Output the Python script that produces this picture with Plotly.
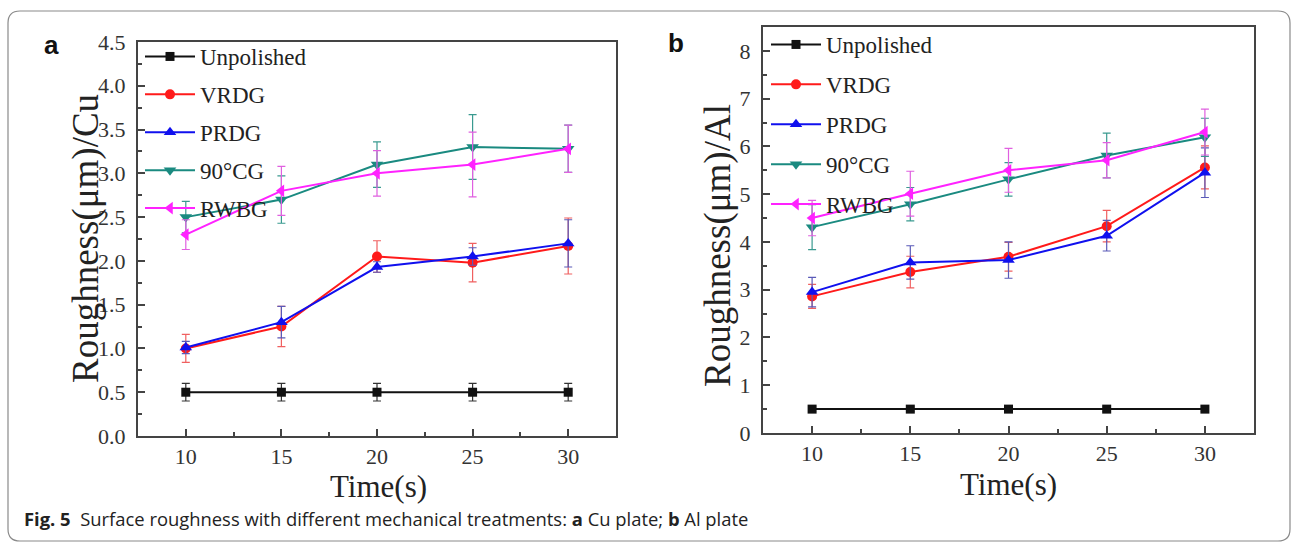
import plotly.graph_objects as go

W, H = 1293, 543

time_s = [10, 15, 20, 25, 30]
series_names = ["Unpolished", "VRDG", "PRDG", "90°CG", "RWBG"]

# Panel a: Cu plate
cu_unpolished = [0.5, 0.5, 0.5, 0.5, 0.5]
cu_unpolished_err = [0.1, 0.1, 0.1, 0.1, 0.1]
cu_vrdg = [1.0, 1.25, 2.05, 1.98, 2.17]
cu_vrdg_err = [0.16, 0.23, 0.18, 0.22, 0.32]
cu_prdg = [1.01, 1.3, 1.93, 2.05, 2.2]
cu_prdg_err = [0.07, 0.18, 0.06, 0.1, 0.27]
cu_90cg = [2.5, 2.7, 3.1, 3.3, 3.28]
cu_90cg_err = [0.18, 0.27, 0.26, 0.37, 0.27]
cu_rwbg = [2.3, 2.8, 3.0, 3.1, 3.28]
cu_rwbg_err = [0.17, 0.28, 0.26, 0.37, 0.27]

# Panel b: Al plate
al_unpolished = [0.5, 0.5, 0.5, 0.5, 0.5]
al_unpolished_err = [0.05, 0.05, 0.05, 0.05, 0.05]
al_vrdg = [2.86, 3.37, 3.69, 4.33, 5.56]
al_vrdg_err = [0.25, 0.33, 0.3, 0.33, 0.45]
al_prdg = [2.95, 3.57, 3.62, 4.13, 5.45]
al_prdg_err = [0.31, 0.35, 0.38, 0.32, 0.52]
al_90cg = [4.31, 4.79, 5.31, 5.81, 6.19]
al_90cg_err = [0.47, 0.35, 0.35, 0.47, 0.4]
al_rwbg = [4.5, 5.01, 5.5, 5.71, 6.3]
al_rwbg_err = [0.37, 0.47, 0.46, 0.37, 0.48]

line_colors = ["#111111", "#ff1a1a", "#1010ee", "#1a8a80", "#ff22ff"]
err_colors = ["#333333", "#f06060", "#5a5ab8", "#3a9a90", "#e060e0"]
symbols = ["square", "circle", "triangle-up", "triangle-down", "triangle-left"]
sizes = [9, 10, 11, 11, 11]

cu_vals = [cu_unpolished, cu_vrdg, cu_prdg, cu_90cg, cu_rwbg]
cu_errs = [cu_unpolished_err, cu_vrdg_err, cu_prdg_err, cu_90cg_err, cu_rwbg_err]
al_vals = [al_unpolished, al_vrdg, al_prdg, al_90cg, al_rwbg]
al_errs = [al_unpolished_err, al_vrdg_err, al_prdg_err, al_90cg_err, al_rwbg_err]

SERIF = "Liberation Serif"

fig = go.Figure()

for panel, (vals, errs, xa, ya, leg) in enumerate([
        (cu_vals, cu_errs, "x", "y", "legend"),
        (al_vals, al_errs, "x2", "y2", "legend2")]):
    for i, name in enumerate(series_names):
        fig.add_trace(go.Scatter(
            x=time_s, y=vals[i], name=name, mode="lines+markers",
            xaxis=xa, yaxis=ya, legend=leg,
            legendgroup=f"p{panel}_{i}",
            line=dict(color=line_colors[i], width=2),
            marker=dict(symbol=symbols[i], size=sizes[i], color=line_colors[i]),
            error_y=dict(type="data", array=errs[i], visible=True,
                         color=err_colors[i], thickness=1.2, width=4),
        ))


def axis(**kw):
    d = dict(
        showline=True, linecolor="#444444", linewidth=2, mirror=True,
        ticks="inside", ticklen=7, tickwidth=1.5, tickcolor="#444444",
        showgrid=False, zeroline=False, ticklabelstandoff=6, automargin=False,
        tickfont=dict(family=SERIF, size=22, color="#333333"),
    )
    d.update(kw)
    return d


fig.update_layout(
    width=W, height=H,
    margin=dict(l=0, r=0, t=0, b=0, pad=0, autoexpand=False),
    paper_bgcolor="white", plot_bgcolor="white",
    font=dict(family=SERIF, size=22, color="#333333"),
    showlegend=True,
    xaxis=axis(domain=[138 / W, 616 / W], range=[7.5, 32.5],
               tickvals=time_s, anchor="y", ticklabelstandoff=0,
               minor=dict(ticks="inside", ticklen=4, dtick=2.5, tick0=7.5,
                          tickcolor="#444444")),
    yaxis=axis(domain=[1 - 436 / H, 1 - 42 / H], range=[0, 4.5],
               dtick=0.5, tickformat=".1f", anchor="x",
               minor=dict(ticks="inside", ticklen=4, dtick=0.25,
                          tickcolor="#444444")),
    xaxis2=axis(domain=[763 / W, 1254 / W], range=[7.5, 32.5],
                tickvals=time_s, anchor="y2", ticklabelstandoff=0,
                minor=dict(ticks="inside", ticklen=4, dtick=2.5, tick0=7.5,
                           tickcolor="#444444")),
    yaxis2=axis(domain=[1 - 433 / H, 1 - 27 / H], range=[0, 8.5],
                dtick=1, anchor="x2",
                minor=dict(ticks="inside", ticklen=4, dtick=0.5,
                           tickcolor="#444444")),
    legend=dict(x=140 / W, y=1 - 35 / H, xanchor="left", yanchor="top",
                bgcolor="rgba(0,0,0,0)", traceorder="grouped", itemwidth=50,
                tracegroupgap=5, font=dict(family=SERIF, size=23, color="#222222")),
    legend2=dict(x=766 / W, y=1 - 23 / H, xanchor="left", yanchor="top",
                 bgcolor="rgba(0,0,0,0)", traceorder="grouped", itemwidth=50,
                 tracegroupgap=7, font=dict(family=SERIF, size=23, color="#222222")),
)


def note(text, px, py, size, family=SERIF, angle=0, xanchor="center", color="#222222"):
    return dict(text=text, x=px / W, y=1 - py / H, xref="paper", yref="paper",
                xanchor=xanchor, yanchor="middle", textangle=angle, showarrow=False,
                font=dict(family=family, size=size, color=color))


ann = [
    note("<b>a</b>", 51, 45, 26, family="Liberation Sans", color="#111111"),
    note("<b>b</b>", 676, 43, 26, family="Liberation Sans", color="#111111"),
    note("Roughness(μm)/Cu", 86, 239, 37, angle=-90),
    note("Roughness(μm)/Al", 718, 246, 37, angle=-90),
    note("Time(s)", 378, 486, 31),
    note("Time(s)", 1008, 484, 31),
    note("<b>Fig. 5</b>  Surface roughness with different mechanical treatments: "
         "<b>a</b> Cu plate; <b>b</b> Al plate", 22, 518, 18.4,
         family="Open Sans", xanchor="left"),
]
fig.update_layout(annotations=ann)

# rounded border around the figure
x0, x1 = 8 / W, 1290 / W
y0, y1 = 1 - 541 / H, 1 - 11 / H
rx, ry = 12 / W, 12 / H
path = (f"M {x0+rx},{y1} L {x1-rx},{y1} Q {x1},{y1} {x1},{y1-ry} "
        f"L {x1},{y0+ry} Q {x1},{y0} {x1-rx},{y0} L {x0+rx},{y0} "
        f"Q {x0},{y0} {x0},{y0+ry} L {x0},{y1-ry} Q {x0},{y1} {x0+rx},{y1} Z")
fig.add_shape(type="path", path=path, xref="paper", yref="paper",
              line=dict(color="#8a8a8a", width=1.2), layer="below")

fig.write_html("out.html", config={"displayModeBar": False},
               post_script="document.body.style.margin='0';"
                           "document.body.style.overflow='hidden';")
